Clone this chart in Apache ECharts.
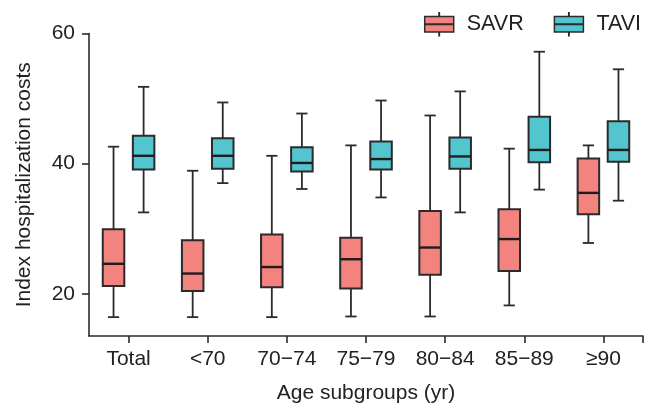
<!DOCTYPE html>
<html><head><meta charset="utf-8">
<script src="https://cdn.jsdelivr.net/npm/echarts@6/dist/echarts.min.js"></script>
<style>html,body{margin:0;padding:0;background:#fff}#c{width:654px;height:410px}</style>
</head><body><div id="c"></div>
<script>
// Categories and tick labels
const categories = ['Total', '<70', '70\u221274', '75\u221279', '80\u221284', '85\u221289', '\u226590'];
const yTickValues = [20, 40, 60];

// SAVR box statistics
const savrMin = [16.4, 16.4, 16.4, 16.5, 16.5, 18.2, 27.8];
const savrQ1  = [21.2, 20.4, 21.0, 20.8, 22.9, 23.5, 32.2];
const savrMed = [24.6, 23.1, 24.1, 25.3, 27.1, 28.4, 35.5];
const savrQ3  = [29.9, 28.2, 29.1, 28.6, 32.7, 33.0, 40.8];
const savrMax = [42.6, 38.9, 41.2, 42.8, 47.4, 42.3, 42.8];

// TAVI box statistics
const taviMin = [32.5, 37.0, 36.1, 34.8, 32.5, 36.0, 34.3];
const taviQ1  = [39.1, 39.2, 38.8, 39.1, 39.2, 40.2, 40.3];
const taviMed = [41.2, 41.2, 40.1, 40.7, 41.1, 42.1, 42.1];
const taviQ3  = [44.3, 43.9, 42.5, 43.4, 44.0, 47.2, 46.5];
const taviMax = [51.8, 49.4, 47.7, 49.7, 51.1, 57.2, 54.5];

const SAVR_COLOR = '#F3837E';
const TAVI_COLOR = '#53C5CE';
const DARK = '#2b2b2b';
const TEXT = '#222222';
const FONT = 'Liberation Sans, Arial, Helvetica, sans-serif';

const catIdx = categories.map((c, i) => i);
const xTickValues = catIdx.concat([catIdx.length - 0.5]);

function build(mins, q1s, meds, q3s, maxs) {
  return catIdx.map(i => [i, mins[i], q1s[i], meds[i], q3s[i], maxs[i]]);
}

function makeRender(offsetFrac, fill) {
  return function (params, api) {
    const i = api.value(0);
    const band = api.size([1, 0])[0];
    const cx = api.coord([i, 20])[0] + offsetFrac * band;
    const y = k => api.coord([i, api.value(k)])[1];
    const yMin = y(1), yQ1 = y(2), yMed = y(3), yQ3 = y(4), yMax = y(5);
    const bw = band * 0.272, cw = band * 0.142;
    const ls = { stroke: DARK, lineWidth: 1.8 };
    return {
      type: 'group',
      children: [
        { type: 'line', shape: { x1: cx, y1: yMax, x2: cx, y2: yQ3 }, style: ls },
        { type: 'line', shape: { x1: cx, y1: yQ1, x2: cx, y2: yMin }, style: ls },
        { type: 'line', shape: { x1: cx - cw / 2, y1: yMax, x2: cx + cw / 2, y2: yMax }, style: ls },
        { type: 'line', shape: { x1: cx - cw / 2, y1: yMin, x2: cx + cw / 2, y2: yMin }, style: ls },
        { type: 'rect', shape: { x: cx - bw / 2, y: yQ3, width: bw, height: yQ1 - yQ3 },
          style: { fill: fill, stroke: DARK, lineWidth: 2 } },
        { type: 'line', shape: { x1: cx - bw / 2, y1: yMed, x2: cx + bw / 2, y2: yMed },
          style: { stroke: '#1e1e1e', lineWidth: 2.4 } }
      ]
    };
  };
}

const legendIcon = 'path://M0,3.7H29V11.3H0Z M0,11.7H29V19.3H0Z M14.3,0H14.7V3.7H14.3Z M14.3,19.3H14.7V23H14.3Z';

const chart = echarts.init(document.getElementById('c'), null, { renderer: 'canvas' });
chart.setOption({
  animation: false,
  backgroundColor: '#ffffff',
  textStyle: { fontFamily: FONT, color: TEXT },
  grid: { left: 89, right: 11, top: 33.5, bottom: 74, containLabel: false },
  legend: {
    top: 7, right: 8, itemWidth: 29, itemHeight: 23, itemGap: 30,
    selectedMode: false,
    textStyle: { fontSize: 21.5, color: TEXT, fontFamily: FONT, padding: [0, 0, 0, 8] },
    data: [
      { name: 'SAVR', icon: legendIcon, itemStyle: { color: SAVR_COLOR, borderColor: DARK, borderWidth: 1.5 } },
      { name: 'TAVI', icon: legendIcon, itemStyle: { color: TAVI_COLOR, borderColor: DARK, borderWidth: 1.5 } }
    ]
  },
  xAxis: {
    type: 'value', min: -0.5, max: catIdx.length - 0.5,
    splitLine: { show: false },
    axisLine: { show: true, onZero: false, lineStyle: { color: DARK, width: 1.6 } },
    axisTick: { show: true, length: 7, customValues: xTickValues, lineStyle: { color: DARK, width: 1.6 } },
    axisLabel: { customValues: catIdx, formatter: v => categories[Math.round(v)], fontSize: 21, margin: 13, color: TEXT, fontFamily: FONT },
    name: 'Age subgroups (yr)', nameLocation: 'middle', nameGap: 47,
    nameTextStyle: { fontSize: 21, color: TEXT, fontFamily: FONT }
  },
  yAxis: {
    type: 'value', min: 13.5, max: 60,
    splitLine: { show: false },
    axisLine: { show: true, onZero: false, lineStyle: { color: DARK, width: 1.6 } },
    axisTick: { show: true, length: 7, customValues: yTickValues, lineStyle: { color: DARK, width: 1.6 } },
    axisLabel: { customValues: yTickValues, fontSize: 21, margin: 14, color: TEXT, fontFamily: FONT },
    name: 'Index hospitalization costs', nameLocation: 'middle', nameGap: 54,
    nameTextStyle: { fontSize: 21, color: TEXT, fontFamily: FONT }
  },
  series: [
    {
      name: 'SAVR', type: 'custom', renderItem: makeRender(-0.19, SAVR_COLOR),
      encode: { x: 0, y: [1, 2, 3, 4, 5] },
      itemStyle: { color: SAVR_COLOR },
      data: build(savrMin, savrQ1, savrMed, savrQ3, savrMax)
    },
    {
      name: 'TAVI', type: 'custom', renderItem: makeRender(0.19, TAVI_COLOR),
      encode: { x: 0, y: [1, 2, 3, 4, 5] },
      itemStyle: { color: TAVI_COLOR },
      data: build(taviMin, taviQ1, taviMed, taviQ3, taviMax)
    }
  ]
});
</script>
</body></html>
